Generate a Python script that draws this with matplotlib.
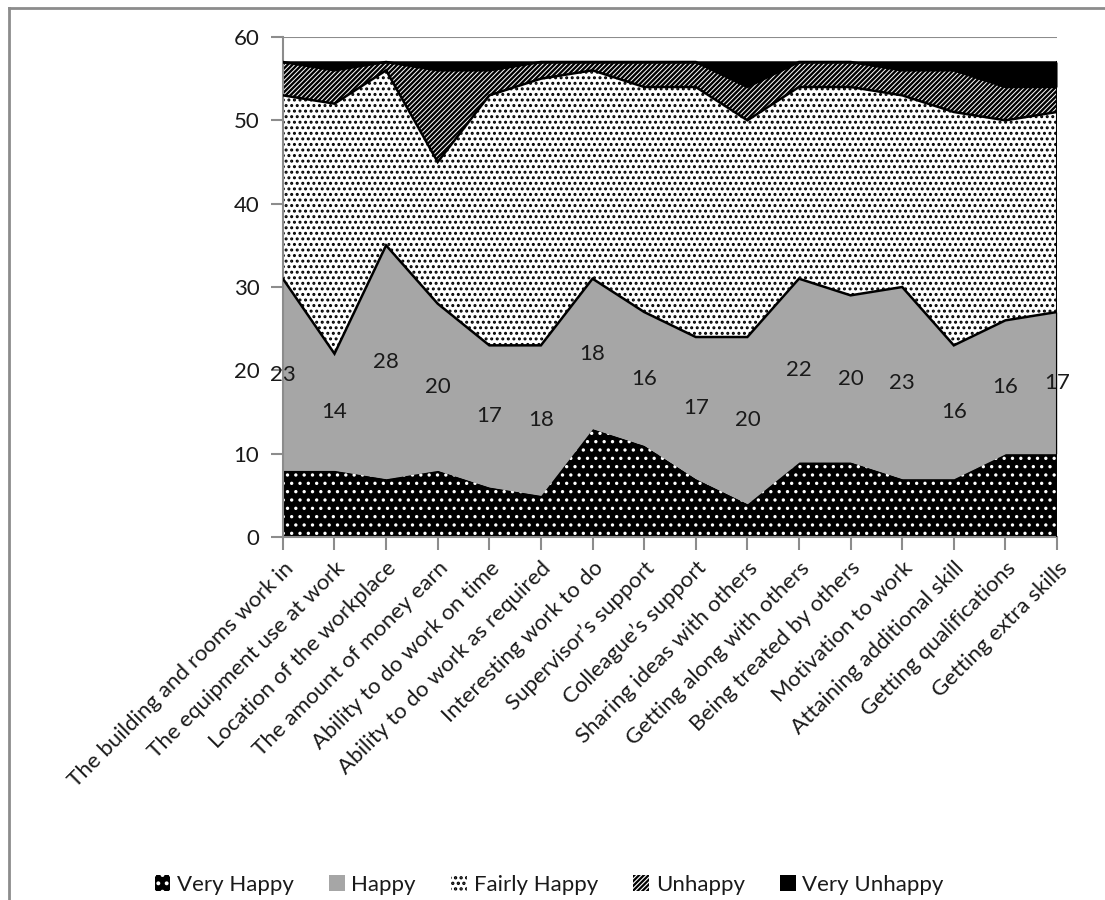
"""Job satisfaction by aspect: stacked area chart, grayscale patterns."""
import matplotlib
matplotlib.use("Agg")
import matplotlib.pyplot as plt
import numpy as np

plt.rcParams["font.family"] = ["Lato", "DejaVu Sans"]
plt.rcParams["hatch.linewidth"] = 1.6

# ---- data ----
categories = [
    "The building and rooms work in", "The equipment use at work",
    "Location of the workplace", "The amount of money earn",
    "Ability to do work on time", "Ability to do work as required",
    "Interesting work to do", "Supervisor\u2019s support",
    "Colleague\u2019s support", "Sharing ideas with others",
    "Getting along with others", "Being treated by others",
    "Motivation to work", "Attaining additional skill",
    "Getting qualifications", "Getting extra skills",
]
very_happy = [8, 8, 7, 8, 6, 5, 13, 11, 7, 4, 9, 9, 7, 7, 10, 10]
happy = [23, 14, 28, 20, 17, 18, 18, 16, 17, 20, 22, 20, 23, 16, 16, 17]
fairly_happy = [22, 30, 21, 17, 30, 32, 25, 27, 30, 26, 23, 25, 23, 28, 24, 24]
unhappy = [4, 4, 1, 11, 3, 2, 1, 3, 3, 4, 3, 3, 3, 5, 4, 3]
very_unhappy = [0, 1, 0, 1, 1, 0, 0, 0, 0, 3, 0, 0, 1, 1, 3, 3]

# name, values, fill style, hatch linewidth
series = [
    ("Very Happy", very_happy, dict(facecolor="black", edgecolor="white", hatch=".."), 1.2),
    ("Happy", happy, dict(facecolor="#a6a6a6", edgecolor="#a6a6a6", hatch=None), 1.0),
    ("Fairly Happy", fairly_happy, dict(facecolor="white", edgecolor="black", hatch="..."), 1.4),
    ("Unhappy", unhappy, dict(facecolor="white", edgecolor="black", hatch="///////"), 1.7),
    ("Very Unhappy", very_unhappy, dict(facecolor="black", edgecolor="black", hatch=None), 1.0),
]

GRAY = "#8c8c8c"
INK = "#1a1a1a"
FS = 16

fig = plt.figure(figsize=(11.05, 9.0), dpi=100)
ax = fig.add_axes([0.256, 0.4033, 0.7006, 0.5556])

x = np.arange(len(categories))
base = np.zeros(len(categories))
handles = []
for name, vals, style, hlw in series:
    top = base + np.array(vals)
    with plt.rc_context({"hatch.linewidth": hlw}):
        h = ax.fill_between(x, base, top, linewidth=0, label=name, zorder=2, **style)
        try:
            h.set_hatch_linewidth(hlw)
        except AttributeError:
            pass
    handles.append(h)
    base = top
    # boundary line on top of each layer
    if name != "Very Happy":
        ax.plot(x, top, color="black", linewidth=1.8, zorder=3, solid_joinstyle="miter")
# right edge of the stack
ax.plot([x[-1], x[-1]], [0, base[-1]], color="black", linewidth=1.5, zorder=3)

# data labels for Happy layer, centred in the band
vh = np.array(very_happy)
for xi, lo, v in zip(x, vh, happy):
    ax.text(xi, lo + v / 2, str(v), ha="center", va="center", fontsize=FS, color=INK, zorder=4)

# axes styling
ax.set_xlim(0, len(categories) - 1)
ax.set_ylim(0, 60)
ax.set_yticks(range(0, 61, 10))
ax.set_xticks(x)
ax.set_xticklabels(categories, rotation=45, ha="right", rotation_mode="anchor", fontsize=FS, color=INK)
ax.tick_params(axis="y", labelsize=FS, labelcolor=INK, color=GRAY, length=9, width=1.5, pad=8)
ax.tick_params(axis="x", color=GRAY, length=9, width=1.5, pad=6)
for s in ["top", "right"]:
    ax.spines[s].set_visible(False)
for s in ["left", "bottom"]:
    ax.spines[s].set_color(GRAY)
    ax.spines[s].set_linewidth(1.5)
ax.grid(axis="y", color=GRAY, linewidth=1.5)
ax.set_axisbelow(True)

# legend
fig.legend(handles=handles, loc="center", bbox_to_anchor=(0.497, 1 - 885 / 900), ncol=5,
           frameon=False, fontsize=FS, handlelength=0.7, handleheight=0.7,
           handletextpad=0.3, columnspacing=1.6, labelcolor=INK)

# outer chart border (left and top edges visible)
fig.add_artist(plt.Line2D([9 / 1105, 9 / 1105], [0, 1 - 8 / 900], color=GRAY, linewidth=2,
                          transform=fig.transFigure))
fig.add_artist(plt.Line2D([9 / 1105, 1], [1 - 8 / 900, 1 - 8 / 900], color=GRAY, linewidth=2,
                          transform=fig.transFigure))

fig.savefig("out.png", dpi=100, facecolor="white")
